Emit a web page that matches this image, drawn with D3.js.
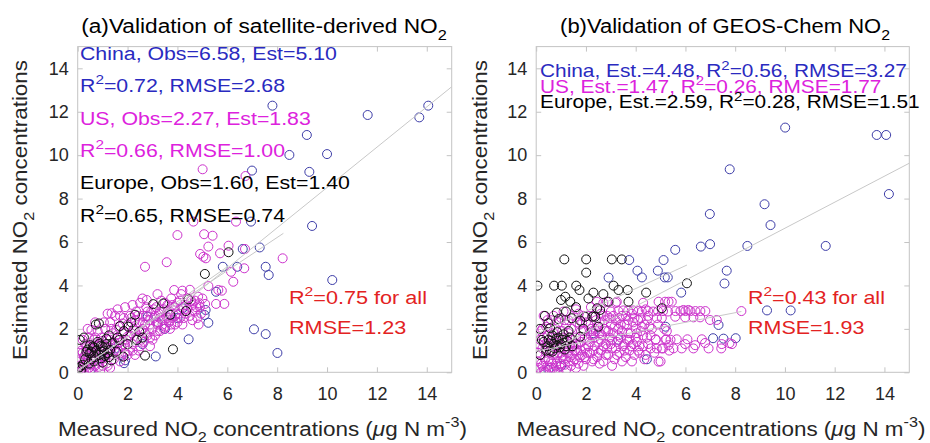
<!DOCTYPE html>
<html>
<head>
<meta charset="utf-8">
<script src="https://cdn.jsdelivr.net/npm/d3@7"></script>
<style>
body { margin: 0; background: #fff; }
svg { display: block; }
text { font-family: "Liberation Sans", Arial, Helvetica, sans-serif; }
</style>
</head>
<body>
<svg id="chart" width="930" height="443"></svg>
<script>
//Panel (a): satellite-derived NO2, [measured, estimated]
var chinaA = [[7.81,12.28],[11.63,11.85],[13.70,11.74],[14.06,12.28],[9.19,10.93],[8.49,10.01],[10.0,10.05],[6.99,9.29],[9.29,9.23],
  [6.95,6.94],[9.40,6.74],[7.30,5.75],[6.62,5.68],[7.54,4.86],[7.66,4.48],[5.82,4.86],[6.40,4.86],[10.21,4.25],[5.55,3.71],
  [7.07,1.98],[7.54,1.76],[8.01,0.89],[5.13,2.87],[5.09,2.64],[5.24,2.28],[4.45,1.52],[3.13,0.73],[1.86,0.42],[0.49,0.02],
  [4.21,2.95],[2.81,2.56],[3.74,2.64],[3.2,2.3],[2.6,1.3],[0.9,0.6],[1.5,1.1],[4.0,2.5],[3.5,2.0],[1.9,0.55]];
var usA = [[4.64,6.94],[6.35,6.94],[4.00,6.32],[5.07,6.36],[5.41,6.29],[5.24,5.79],[6.05,5.83],[6.71,5.68],[4.91,5.45],[5.14,5.25],
  [5.71,5.48],[8.22,5.25],[6.68,4.79],[6.15,4.63],[6.24,4.17],[2.70,4.86],[3.57,5.07],[5.24,3.97],[5.64,3.79],[3.87,3.79],
  [4.20,3.76],[5.88,3.15],[4.88,3.18],[4.83,3.48],[2.77,3.33],[1.36,2.72],[5.01,9.35],[6.73,9.04],[5.04,5.32],[5.78,3.76],
  [5.11,3.15],[5.55,3.15],[4.61,2.87],
  [0.05,0.3],[0.1,0.6],[0.15,1.0],[0.2,0.2],[0.25,0.45],[0.3,0.8],[0.3,1.3],[0.35,0.1],[0.4,0.55],[0.45,1.6],[0.5,0.35],[0.5,0.9],
  [0.05,0.9],[0.2,1.5],[0.4,2.0],[0.55,0.15],[0.6,0.6],[0.6,1.1],[0.65,1.5],[0.7,0.3],[0.75,0.85],[0.8,1.3],[0.8,1.9],[0.85,0.5],
  [0.9,1.0],[0.9,0.05],[0.95,1.6],[1.0,0.3],[0.7,2.3],[0.55,1.95],[1.05,0.7],[1.1,1.2],[1.1,2.0],[1.15,0.4],[1.2,1.5],[1.25,0.9],
  [1.3,2.3],[1.3,0.2],[1.35,1.1],[1.4,1.8],[1.45,0.6],[1.5,1.35],[1.5,2.6],[1.2,2.7],[1.55,0.9],[1.6,1.6],[1.65,2.1],[1.7,0.5],
  [1.75,1.2],[1.8,1.8],[1.85,2.5],[1.9,0.9],[1.95,1.5],[2.0,2.2],[1.6,2.9],[1.9,3.0],[2.05,1.0],[2.1,1.7],[2.15,2.5],[2.2,1.3],
  [2.25,2.0],[2.3,0.8],[2.35,2.8],[2.4,1.6],[2.45,2.3],[2.5,1.2],[2.2,3.1],[2.5,3.2],[2.55,1.9],[2.6,2.6],[2.65,1.4],[2.7,2.2],
  [2.75,3.0],[2.8,1.7],[2.85,2.4],[2.9,1.2],[2.95,2.8],[3.0,2.0],[2.6,3.4],[3.05,2.5],[3.1,1.7],[3.15,3.0],[3.2,2.2],[3.25,2.7],
  [3.3,1.9],[3.35,3.3],[3.4,2.4],[3.45,2.9],[3.5,2.1],[3.2,3.6],[3.55,2.6],[3.6,3.1],[3.65,2.3],[3.7,2.8],[3.75,3.4],[3.8,2.5],
  [3.85,3.0],[3.9,2.2],[3.95,2.7],[4.0,3.2],[4.1,2.5],[4.2,3.0],[4.3,2.7],[4.4,3.4],[4.5,2.6],[4.6,3.1],[4.7,2.8],[4.8,2.5],
  [4.9,3.0],[4.15,3.6],[4.5,3.8],
  [0.15,0.05],[0.25,0.7],[0.35,1.2],[0.45,0.2],[0.55,0.7],[0.65,0.9],[0.75,1.2],[0.85,0.25],[0.95,0.75],[1.0,1.45],[1.1,0.5],
  [1.2,1.0],[1.3,1.5],[1.4,0.8],[1.45,1.25],[1.55,1.95],[1.65,1.35],[1.75,0.75],[1.8,2.25],[1.9,1.25],[2.0,1.65],[2.1,2.6],
  [2.2,1.0],[2.3,1.9],[2.4,2.6],[2.55,1.5],[2.6,2.3],[2.7,1.8],[2.8,2.8],[2.9,2.2],[3.0,1.5],[3.1,2.6],[3.2,1.9],[3.3,2.8],
  [3.4,2.2],[3.5,3.2],[3.6,2.5],[3.7,2.0],[3.8,3.1],[3.9,2.6],[4.0,2.3],[4.1,3.3],[4.25,2.5],[4.35,3.1],[4.6,2.4],[4.7,3.3],
  [4.95,2.7],[5.0,3.4],[0.08,0.05],[0.6,0.0],
  [0.1,0.0],[0.2,0.9],[0.35,0.45],[0.45,1.15],[0.7,1.6],[0.9,1.35],[1.05,2.3],[1.2,0.3],[1.35,2.0],[1.6,1.0],[1.7,2.6],
  [1.8,1.45],[2.0,0.8],[2.15,1.8],[2.3,2.4],[2.45,1.0],[2.6,2.0],[2.75,2.6],[2.9,1.6],[3.05,2.9],[3.15,2.3],[3.3,2.5],
  [3.45,2.0],[3.6,2.8],[3.75,2.2],[3.9,3.0],[4.05,2.7],[4.2,2.2],[4.4,2.9],[4.55,3.3],[4.75,3.0],[4.85,2.2]];
var europeA = [[6.05,5.53],[5.10,4.53],[4.44,3.36],[4.34,2.82],[3.43,3.17],[3.03,3.14],[3.71,2.65],[2.30,2.65],[3.82,1.06],
  [2.70,0.77],[0.73,2.20],[0.08,1.49],[1.70,2.13],[2.03,2.10],[2.47,1.87],[0.47,0.88],[0.87,0.80],[1.20,0.88],[0.60,1.18],
  [1.00,1.18],[1.30,1.03],[1.83,0.72],[2.37,1.49],[0.02,0.18],[0.13,0.10],[0.92,1.21],[0.55,0.95],[0.7,0.7],[0.95,0.95],
  [1.1,0.75],[0.4,1.05],[0.8,1.4],[1.4,1.35],[1.6,1.6],[1.15,1.55],[0.3,0.6],[0.65,0.5],[1.55,0.95],[2.0,1.3],[2.6,1.6],
  [1.85,1.9],[0.1,0.25],[0.5,1.25],[1.25,1.7],[2.15,2.3],[1.67,1.49],
  [0.55,0.6],[0.75,1.0],[0.85,1.3],[1.05,1.0],[1.15,1.3],[0.65,1.15],[0.95,0.65],[1.25,0.7],[0.35,0.95],[1.35,0.55],
  [0.25,1.6],[0.85,2.25],[1.0,0.45],[0.45,0.4],[0.2,0.35]];

//Panel (b): GEOS-Chem NO2, [measured, estimated]
var chinaB = [[10.01,11.27],[13.69,10.93],[14.07,10.93],[7.78,9.35],[9.18,7.74],[6.98,7.29],[14.18,8.21],[9.42,6.78],[6.62,5.79],
  [6.99,5.90],[8.49,5.82],[11.64,5.82],[5.59,5.64],[5.12,5.17],[4.07,4.68],[4.25,4.37],[4.89,4.68],[5.17,4.37],[5.29,4.37],
  [7.66,4.68],[7.57,4.09],[5.83,3.67],[3.74,5.17],[2.91,4.36],[9.28,2.85],[10.23,2.85],[7.33,2.18],[7.11,1.57],[7.53,1.55],
  [8.02,1.57],[4.45,0.60],[5.20,2.10],[0.49,0.11],[1.0,0.3],[2.3,1.8],[3.3,1.5]];
var usB = [[0.05,0.5],[0.1,0.2],[0.15,0.8],[0.2,0.4],[0.25,1.1],[0.3,0.1],[0.35,0.6],[0.4,0.9],[0.45,0.3],[0.1,1.3],[0.3,1.6],
  [0.45,2.4],[0.5,0.6],[0.55,0.2],[0.6,1.0],[0.65,0.4],[0.7,0.8],[0.75,0.05],[0.8,1.2],[0.85,0.5],[0.9,0.9],[0.95,0.25],
  [0.6,2.4],[0.7,1.8],[0.9,2.3],[1.0,2.5],[1.05,0.7],[1.1,1.1],[1.15,0.35],[1.2,1.5],[1.25,0.9],[1.3,0.5],[1.35,1.3],[1.4,2.0],
  [1.45,0.8],[1.5,1.2],[1.1,2.8],[1.3,2.4],[1.55,0.6],[1.6,1.6],[1.65,1.0],[1.7,0.4],[1.75,2.2],[1.8,1.4],[1.85,0.8],[1.9,1.9],
  [1.95,1.1],[2.0,0.6],[1.6,2.9],[1.9,2.6],[2.05,1.5],[2.1,2.2],[2.15,0.9],[2.2,1.7],[2.25,0.5],[2.3,2.6],[2.35,1.2],[2.4,1.9],
  [2.45,0.7],[2.5,1.4],[2.2,3.0],[2.45,2.9],[2.55,2.3],[2.6,1.0],[2.65,1.7],[2.7,0.5],[2.75,2.0],[2.8,1.3],[2.85,2.6],[2.9,0.8],
  [2.95,1.6],[3.0,2.2],[2.7,3.2],[3.0,2.8],[3.05,1.1],[3.1,1.8],[3.15,0.6],[3.2,2.4],[3.25,1.4],[3.3,2.0],[3.35,0.9],[3.4,1.6],
  [3.45,2.6],[3.5,1.2],[3.2,3.2],[3.5,2.85],[3.55,2.2],[3.6,0.7],[3.65,1.5],[3.7,2.4],[3.75,1.0],[3.8,1.8],[3.85,2.7],[3.9,1.3],
  [3.95,0.8],[4.0,2.0],[3.7,2.85],[3.9,2.85],[4.05,1.4],[4.1,2.4],[4.15,0.9],[4.2,1.9],[4.25,2.8],[4.3,1.2],[4.35,2.2],[4.4,0.8],
  [4.45,1.6],[4.5,2.6],[4.3,3.2],[4.6,1.1],[4.7,2.8],[4.8,1.5],[4.9,2.2],[5.0,0.5],[5.1,1.1],[5.2,1.5],[5.3,2.8],[5.4,1.5],
  [4.65,2.0],[5.05,2.5],[5.25,1.9],[5.6,2.82],[5.8,2.82],[6.0,2.82],[6.2,2.82],[6.4,2.82],[6.6,2.82],[6.8,2.82],[8.25,2.82],
  [5.65,1.52],[6.08,1.52],[6.66,1.52],[5.52,1.1],[5.85,1.1],[6.32,1.1],[6.93,1.1],[7.44,1.1],[7.77,1.34],[5.59,2.56],[5.99,2.53],
  [6.32,2.53],[6.59,2.53],[6.99,2.41],[7.26,2.41],[5.92,2.87],[6.12,2.87],[5.45,3.25],[5.18,3.25],[6.39,1.25],[6.79,1.35],
  [7.46,1.3],[7.87,1.3],[4.92,0.49],[5.99,1.3],[5.32,1.25],[3.3,2.82],[4.1,2.82],[4.5,2.82],[4.9,2.82],[5.1,2.82],[2.44,3.25],
  [2.84,3.25],[3.24,3.25],[4.92,3.25],[5.32,3.25],[4.81,1.52],[5.23,1.52],[4.85,1.1],[5.05,1.1],
  [0.05,0.9],[0.2,0.0],[0.2,1.9],[0.35,1.3],[0.4,2.1],[0.5,1.2],[0.55,0.9],[0.65,1.6],[0.7,0.2],[0.75,1.4],[0.8,2.0],[0.85,0.8],
  [0.95,1.1],[1.0,0.4],[1.05,1.9],[1.1,0.6],[1.2,0.1],[1.2,2.2],[1.25,1.2],[1.3,1.8],[1.4,0.3],[1.45,1.5],[1.5,2.6],[1.55,1.0],
  [1.6,0.2],[1.65,2.3],[1.7,1.3],[1.75,0.7],[1.8,1.9],[1.9,0.3],[1.95,1.6],[2.0,2.3],[2.05,0.9],[2.1,1.2],[2.2,2.0],[2.3,0.6],
  [2.35,1.6],[2.4,2.4],[2.5,0.9],[2.55,1.8],[2.6,2.7],[2.7,1.2],[2.75,2.4],[2.8,0.8],[2.9,1.9],[3.0,1.3],[3.05,0.3],[3.1,2.6],
  [3.2,1.1],[3.3,1.7],[3.4,2.2],[3.45,0.5],[3.55,1.3],[3.6,2.6],[3.7,1.8],[3.8,1.2],[3.9,2.3],[4.0,1.6],[4.1,1.0],[4.2,2.5],
  [4.3,1.7],[4.4,2.9],[4.5,1.3],[4.55,2.1],[0.3,2.6],[0.25,0.3],[0.6,0.5],[0.9,0.0],
  [0.15,1.5],[0.25,2.0],[0.35,0.0],[0.45,1.7],[0.55,1.3],[0.7,2.6],[0.8,0.3],[0.9,1.5],[1.0,0.9],[1.1,1.6],[1.15,2.4],[1.3,1.0],
  [1.35,0.7],[1.5,0.5],[1.6,1.3],[1.7,2.7],[1.8,1.0],[1.85,2.3],[1.95,0.7],[2.05,2.6],[2.15,1.4],[2.25,1.9],[2.3,1.0],[2.45,2.1],
  [2.55,0.4],[2.6,1.5],[2.7,2.6],[2.8,1.9],[2.85,1.1],[2.95,2.5],[3.05,1.5],[3.15,2.1],[3.25,0.8],[3.35,2.5],[3.45,1.9],[3.55,1.0],
  [3.65,2.2],[3.75,1.5],[3.85,0.5],[3.95,2.5],[4.05,1.8],[4.15,1.2],[4.25,2.1],[4.35,0.6],[4.45,2.4],[4.6,1.7],[4.75,0.9],
  [4.85,2.5],[5.15,2.0],[5.35,1.0]];
var europeB = [[0.05,3.99],[0.72,3.99],[1.03,3.99],[1.13,5.20],[2.01,5.20],[2.01,4.59],[3.04,5.20],[3.44,5.20],[1.61,3.99],
  [1.74,3.79],[2.30,3.67],[3.11,3.99],[3.31,3.79],[3.68,3.79],[4.42,3.67],[6.06,4.10],[5.05,2.95],[1.00,3.33],[1.17,3.48],
  [1.37,3.25],[2.57,2.87],[2.91,3.25],[3.71,3.25],[0.83,2.75],[0.49,2.26],[0.56,2.03],[1.43,2.49],[1.77,2.38],[1.97,2.56],
  [2.37,2.56],[0.23,1.49],[0.16,0.80],[1.77,1.64],[2.5,2.1],[2.45,2.95],[0.45,1.2],[0.6,1.45],[0.75,1.1],[0.9,1.6],[1.0,1.3],
  [1.1,1.75],[1.25,1.45],[0.55,1.0],[0.85,1.85],[1.15,1.05],[1.35,1.6],[0.65,1.7],[0.3,1.4],[1.45,1.2],[2.26,2.56],
  [0.5,1.5],[0.7,1.3],[0.8,1.55],[0.95,1.15],[1.05,1.5],[1.2,1.2],[0.4,1.0],[0.65,0.95],[1.3,1.9],[0.85,1.25],
  [0.35,2.6],[1.2,2.8],[1.6,3.0],[2.1,3.4],[0.9,2.45],[1.9,2.0],[2.7,3.6],[0.15,2.0]];

//Fit lines [x0, y0, x1, y1]
var fitA = [[0.83,0,15,13.15],[0,0.10,8.25,6.40],[0,0.05,6.05,4.90]];
var fitB = [[0.49,0.94,15,9.63],[0,1.75,6.06,4.94],[0,0.97,8.25,2.80]];

//Stats text
var statsA = [["China, Obs=6.58, Est=5.10", "blue"], ["R^2=0.72, RMSE=2.68", "blue"],
  ["US, Obs=2.27, Est=1.83", "mag"], ["R^2=0.66, RMSE=1.00", "mag"],
  ["Europe, Obs=1.60, Est=1.40", "blk"], ["R^2=0.65, RMSE=0.74", "blk"]];
var statsB = [["China, Est.=4.48, R^2=0.56, RMSE=3.27", "blue"], ["US, Est.=1.47, R^2=0.26, RMSE=1.77", "mag"],
  ["Europe, Est.=2.59, R^2=0.28, RMSE=1.51", "blk"]];
var allA = ["R^2=0.75 for all", "RMSE=1.23"];
var allB = ["R^2=0.43 for all", "RMSE=1.93"];
var ticks = [0, 2, 4, 6, 8, 10, 12, 14];

var textColor = { blue: "#2a2ac0", mag: "#dd22dd", blk: "#000000" };
var markColor = { china: "#3d3da8", us: "#cc33cc", europe: "#111111" };

var svg = d3.select("#chart");

//Text with ^ and _ scripts
function rich(t, str, size) {
    var parts = str.split(/(\^\{[^}]*\}|\^.|_\{[^}]*\}|_.|μ)/).filter(function(s){ return s.length; });
    var shift = 0;
    parts.forEach(function(p){
        var type = 0, s = p;
        if (p[0] === "^" || p[0] === "_") {
            type = p[0] === "^" ? -1 : 1;
            s = p[1] === "{" ? p.slice(2, -1) : p.slice(1);
        }
        var target = type === 0 ? 0 : (type < 0 ? -size * 0.42 : size * 0.33);
        var ts = t.append("tspan").attr("dy", target - shift).text(s);
        if (type !== 0) ts.style("font-size", (size * 0.72) + "px");
        if (s === "μ") ts.style("font-style", "italic");
        shift = target;
    });
}

//Stretch a text horizontally to a measured width
function fit(t, width, pos, rot) {
    var w = t.node().getBBox().width;
    var s = width / w;
    t.attr("transform", "translate(" + pos[0] + "," + pos[1] + ")" + (rot ? " rotate(" + rot + ")" : "") + " scale(" + s + ",1)");
    return s;
}

function label(g, str, size, color, anchor) {
    var t = g.append("text").attr("text-anchor", anchor).attr("fill", color).style("font-size", size + "px");
    rich(t, str, size);
    return t;
}

function panel(opt) {
    var x = d3.scaleLinear().domain([0, 15]).range([opt.left, opt.right]);
    var y = d3.scaleLinear().domain([0, 15]).range([372.3, 46.6]);
    var g = svg.append("g");

    var clipId = "clip" + opt.id;
    svg.append("clipPath").attr("id", clipId).append("rect")
       .attr("x", opt.left).attr("y", 46.6).attr("width", opt.right - opt.left).attr("height", 372.3 - 46.6);

    //Axes
    var axisColor = "#c4c4c4";
    var xb = g.append("g").attr("transform", "translate(0,372.3)")
              .call(d3.axisBottom(x).tickValues(ticks).tickSizeInner(-5).tickSizeOuter(0).tickPadding(15));
    var xt = g.append("g").attr("transform", "translate(0,46.6)")
              .call(d3.axisTop(x).tickValues(ticks).tickSizeInner(-5).tickSizeOuter(0).tickFormat(""));
    var yl = g.append("g").attr("transform", "translate(" + opt.left + ",0)")
              .call(d3.axisLeft(y).tickValues(ticks).tickSizeInner(-5).tickSizeOuter(0).tickPadding(9));
    var yr = g.append("g").attr("transform", "translate(" + opt.right + ",0)")
              .call(d3.axisRight(y).tickValues(ticks).tickSizeInner(-5).tickSizeOuter(0).tickFormat(""));
    [xb, xt, yl, yr].forEach(function(a){
        a.select(".domain").remove();
        a.selectAll("line").attr("stroke", axisColor);
        a.selectAll("text").attr("fill", "#262626").style("font-size", "18px")
         .style("font-family", "'Liberation Sans', Arial, sans-serif");
    });
    g.append("rect").attr("x", opt.left).attr("y", 46.6)
     .attr("width", opt.right - opt.left).attr("height", 372.3 - 46.6)
     .attr("fill", "none").attr("stroke", axisColor).attr("stroke-width", 1);

    //Markers
    var pts = g.append("g").attr("clip-path", "url(#" + clipId + ")");
    [[opt.china, markColor.china], [opt.us, markColor.us], [opt.europe, markColor.europe]].forEach(function(s){
        pts.append("g").selectAll("circle").data(s[0]).enter().append("circle")
           .attr("cx", function(d){ return x(d[0]); })
           .attr("cy", function(d){ return y(d[1]); })
           .attr("r", 4.5)
           .attr("fill", "none")
           .attr("stroke", s[1])
           .attr("stroke-width", 1);
    });

    //Fit lines
    pts.append("g").selectAll("line").data(opt.fit).enter().append("line")
       .attr("x1", function(d){ return x(d[0]); })
       .attr("y1", function(d){ return y(d[1]); })
       .attr("x2", function(d){ return x(d[2]); })
       .attr("y2", function(d){ return y(d[3]); })
       .attr("stroke", "#c8c8c8").attr("stroke-width", 1);

    //Stats
    var sx = 1;
    opt.stats.forEach(function(s, i){
        var t = label(g, s[0], opt.statSize, textColor[s[1]], "start");
        var pos = [opt.statX, opt.statY + i * opt.statDy];
        if (i === 0) {
            sx = fit(t, opt.statW, pos);
        } else {
            t.attr("transform", "translate(" + pos[0] + "," + pos[1] + ") scale(" + sx + ",1)");
        }
    });
    var ax = 1;
    opt.all.forEach(function(s, i){
        var t = label(g, s, 19, "#e32222", "start");
        var pos = [opt.allX, 303.5 + i * 30];
        if (i === 0) {
            ax = fit(t, opt.allW, pos);
        } else {
            t.attr("transform", "translate(" + pos[0] + "," + pos[1] + ") scale(" + ax + ",1)");
        }
    });

    //Titles and axis labels
    fit(label(g, opt.title, 21, "#000", "middle"), opt.titleW, [opt.titleX, 33]);
    fit(label(g, "Measured NO_2 concentrations (μg N m^{-3})", 21, "#262626", "middle"), 409, [opt.xlabX, 435.5]);
    fit(label(g, "Estimated NO_2 concentrations", 21, "#262626", "middle"), 300, [opt.ylabX, 210], -90);
}

panel({ id: "a", left: 77.7, right: 451.7, china: chinaA, us: usA, europe: europeA, fit: fitA,
        stats: statsA, statX: 80, statY: 60, statDy: 32.3, statSize: 19, statW: 257,
        all: allA, allX: 289, allW: 138, title: "(a)Validation of satellite-derived NO_2", titleW: 366, titleX: 264,
        xlabX: 262.5, ylabX: 27 });
panel({ id: "b", left: 536.2, right: 909.3, china: chinaB, us: usB, europe: europeB, fit: fitB,
        stats: statsB, statX: 540, statY: 77.3, statDy: 15.5, statSize: 18, statW: 367,
        all: allB, allX: 748, allW: 137, title: "(b)Validation of GEOS-Chem NO_2", titleW: 330, titleX: 725,
        xlabX: 721, ylabX: 487 });
</script>
</body>
</html>
